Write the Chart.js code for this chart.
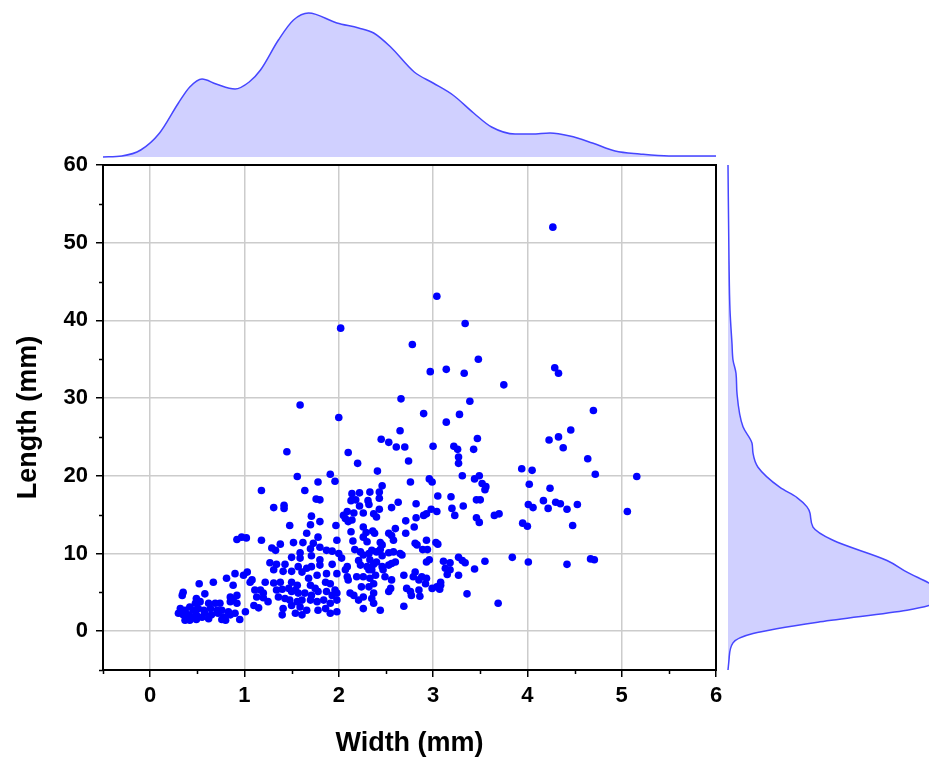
<!DOCTYPE html>
<html>
<head>
<meta charset="utf-8">
<script src="https://cdn.jsdelivr.net/npm/chart.js@4.4.0/dist/chart.umd.min.js"></script>
<style>
  body { margin: 0; background: #fff; }
  #wrap { position: relative; width: 929px; height: 760px; overflow: hidden; }
  canvas { position: absolute; }
</style>
</head>
<body>
<div id="wrap">
  <canvas id="top" width="722" height="160" style="left:0;top:0"></canvas>
  <canvas id="main" width="722" height="620" style="left:0;top:140px"></canvas>
  <canvas id="side" width="207" height="620" style="left:722px;top:140px"></canvas>
</div>
<script>
// scatter samples
const widthMm = [
    4.27,4.29,4.33,4.70,4.46,4.23,4.33,4.38,4.64,3.94,
    4.05,4.72,5.16,4.02,4.24,4.17,4.01,4.06,4.22,4.30,
    4.35,4.42,4.53,5.06,3.95,4.00,4.48,4.01,4.42,4.67,
    4.71,
    3.04,2.02,3.34,2.78,3.48,2.97,3.14,3.33,3.75,1.59,
    2.66,3.39,2.00,2.90,3.28,3.14,2.65,2.45,2.53,2.61,
    2.70,3.00,3.22,3.26,3.43,3.47,1.45,2.10,2.20,2.74,
    3.27,3.27,2.41,1.56,1.91,1.78,1.96,2.46,2.76,2.96,
    2.99,3.31,3.44,3.49,3.52,3.56,1.18,1.64,
    1.76,1.80,2.14,2.22,2.33,2.13,2.18,2.31,2.32,2.43,
    2.43,1.31,1.42,1.42,2.22,
    1.48,1.71,1.70,1.80,1.97,1.66,1.78,0.92,0.97,1.02,
    1.18,1.29,1.38,1.33,1.52,1.62,1.73,1.80,1.70,1.59,
    1.87,1.93,1.98,1.59,1.50,1.71,1.80,1.93,1.27,1.34,
    1.43,1.57,1.66,1.71,1.80,1.31,1.41,1.50,1.61,0.90,
    0.99,1.68,1.77,1.87,1.98,1.06,1.08,1.22,1.31,1.38,
    1.50,1.56,0.88,1.86,1.91,1.70,1.75,1.11,1.17,1.20,
    1.34,1.40,1.47,1.50,1.54,1.57,1.64,1.71,1.78,1.87,
    1.93,1.98,0.85,0.92,1.13,1.20,1.36,1.43,1.48,1.56,
    1.61,1.70,1.77,1.84,1.91,1.98,1.10,1.15,1.25,1.41,
    1.50,1.59,1.66,1.78,1.86,1.91,1.98,1.01,1.40,1.54,
    1.61,
    0.35,0.34,0.52,0.67,0.81,1.03,0.58,0.85,0.88,0.49,
    0.48,0.53,0.62,0.69,0.74,0.32,0.37,0.42,0.46,0.51,
    0.57,0.64,0.71,0.76,0.83,0.30,0.35,0.41,0.44,0.49,
    0.55,0.58,0.65,0.72,0.78,0.85,0.90,0.37,0.42,0.49,
    0.62,0.76,0.80,0.95,0.92,
    2.43,2.63,2.56,2.82,3.05,3.04,2.98,2.07,2.10,2.14,
    2.05,2.09,2.16,2.26,2.37,2.40,2.13,2.26,2.29,2.36,
    2.38,2.53,2.60,2.56,2.71,2.82,2.90,2.93,2.71,2.80,
    2.15,2.26,2.30,2.44,2.46,2.58,2.65,2.67,2.81,2.83,
    2.93,3.03,2.89,2.94,2.00,2.03,2.17,2.23,2.26,2.32,
    2.35,2.40,2.44,2.46,2.53,2.58,2.96,2.93,2.09,2.07,
    2.21,2.23,2.30,2.33,2.37,2.35,2.32,2.40,2.46,2.47,
    2.53,2.56,2.60,2.49,2.56,2.69,2.81,2.79,2.85,2.88,
    2.92,2.99,3.04,2.93,1.96,2.09,2.10,2.19,2.26,2.33,
    2.39,2.37,2.12,2.16,2.24,2.26,2.21,2.32,2.37,2.35,
    2.55,2.53,2.72,2.76,2.77,2.85,2.86,2.69,2.26,2.37,
    2.44,
    3.55,3.19,3.46,3.50,3.20,3.23,3.32,3.46,3.49,3.65,
    3.70,3.05,3.11,3.18,3.13,3.18,3.27,3.31,3.34,3.55,
    3.84,3.44,3.15,3.27,3.08,3.08,3.07,3.36,3.69
];
const lengthMm = [
    52.0,33.9,33.2,28.4,25.9,24.6,25.0,23.6,22.2,20.9,
    20.7,20.2,19.9,18.9,18.4,16.8,16.3,15.9,15.8,16.6,
    16.4,15.7,16.3,15.4,13.9,13.5,13.6,8.9,8.6,9.3,
    9.2,
    43.1,39.0,39.6,36.9,35.0,33.4,33.7,33.2,31.7,29.1,
    29.9,29.6,27.5,28.0,27.9,26.9,25.8,24.7,24.3,23.7,
    23.7,23.8,23.8,23.4,23.4,24.8,23.1,23.0,21.6,21.9,
    22.4,21.6,20.6,19.9,20.2,19.2,19.3,18.7,19.2,19.6,
    19.2,20.0,19.6,20.0,19.0,18.6,18.1,18.1,
    17.0,16.9,17.7,17.8,17.9,16.8,16.9,16.8,16.3,17.1,
    17.9,15.9,16.2,15.8,16.1,
    13.6,14.8,13.7,14.1,13.6,12.6,12.1,11.8,12.1,12.0,
    11.7,10.7,11.2,10.4,11.4,11.4,11.3,10.8,10.6,10.1,
    10.4,10.3,11.7,9.4,9.5,9.7,9.2,8.6,8.8,8.6,
    8.6,8.3,8.1,8.3,8.5,7.9,7.7,7.7,7.6,7.4,
    7.2,6.8,7.2,7.4,7.4,6.3,6.6,6.3,6.2,6.3,
    6.3,5.9,5.9,6.3,6.1,5.9,5.5,5.3,5.3,4.9,
    5.3,5.4,5.5,5.1,5.3,4.9,4.9,4.6,5.1,5.1,
    4.6,4.9,4.4,4.6,4.4,4.3,4.4,4.2,4.0,3.8,
    4.0,4.0,3.8,4.0,3.6,4.0,3.3,3.0,3.8,2.9,
    3.3,3.1,2.7,2.7,2.9,2.3,2.5,2.5,2.1,2.3,
    2.1,
    5.0,4.6,6.1,6.3,6.8,7.6,4.8,3.8,4.0,4.2,
    3.6,3.8,3.6,3.6,3.6,2.9,2.7,3.1,2.7,2.9,
    2.7,2.9,2.7,2.7,2.5,2.3,2.1,2.1,1.8,2.1,
    1.8,2.3,2.1,2.3,1.8,2.1,2.3,1.4,1.4,1.5,
    1.6,1.5,1.4,1.5,3.6,
    15.7,16.6,15.9,16.4,17.4,15.4,15.7,14.5,14.1,14.3,
    14.9,15.4,15.2,15.2,15.1,14.7,12.8,13.4,12.7,12.9,
    12.6,12.6,13.2,12.3,14.2,14.6,14.9,15.1,12.6,13.4,
    11.6,12.1,11.5,11.4,11.1,11.7,10.0,9.8,11.3,11.1,
    11.7,11.4,10.5,10.5,10.0,9.4,10.5,10.2,9.8,10.0,
    10.4,10.2,10.5,9.7,10.1,10.2,9.2,8.9,8.3,7.9,
    9.1,8.5,8.3,9.2,8.6,7.9,7.9,8.9,8.3,7.9,
    8.5,8.7,8.9,7.0,6.6,7.2,7.6,7.0,6.6,7.0,
    6.1,5.5,5.7,6.8,5.3,7.0,6.6,7.0,7.0,6.8,
    7.2,6.1,4.9,4.6,5.7,4.4,4.0,5.7,4.9,4.2,
    5.5,5.1,5.5,5.1,4.6,5.3,4.5,3.2,2.9,3.6,
    2.7,
    18.2,17.3,16.9,16.9,15.8,14.9,16.1,14.6,14.0,14.9,
    15.1,11.2,9.0,8.8,8.1,7.9,9.5,9.1,8.8,9.0,
    9.5,8.0,7.3,7.2,6.3,5.9,5.4,4.8,3.6
];

// marginal density curves (relative units)
const widthGrid = [-0.5,-0.3,-0.1,0.1,0.3,0.42,0.55,0.7,0.9,1.05,1.17,1.36,1.52,1.68,1.98,2.21,2.37,2.55,2.8,3.0,3.21,3.43,3.62,3.87,4.05,4.24,4.45,4.69,4.93,5.19,5.5,6.0];
const widthDensity = [0,1,7,24,54,70,78,73,68,75,87,117,137,144,134,129,124,110,85,74,62,44,30,23,23,24,21,14,6,3,1,1];

const lengthGrid = [-5,-3.7,-1.5,-0.3,1.2,2.7,3.3,4.6,6.2,7.6,9.1,11.7,13.4,15.2,16.0,17.2,18.5,21.1,22.9,24.2,26.3,30.6,33.2,34.9,37,41.3,47.7,60];
const lengthDensity = [0,1,5,25,92,179,201,222,201,179,159,105,85,82,79,69,52,30,25,24,15,9,8,5,4,2,1,0];

const xTicks = [0,1,2,3,4,5,6];
const yTicks = [0,10,20,30,40,50,60];
const xMinor = [-0.5,0.5,1.5,2.5,3.5,4.5,5.5];
const yMinor = [-5,5,15,25,35,45,55];

if (widthMm.length !== lengthMm.length) console.error("length mismatch", widthMm.length, lengthMm.length);

const lineBlue = 'rgba(70, 70, 255, 1)';
const fillBlue = 'rgba(208, 208, 255, 1)';
const font = 'Liberation Sans, Arial, sans-serif';

// frame + minor ticks for the main plot
const framePlugin = {
    id: 'frame',
    afterDraw(chart) {
        const {ctx, chartArea: a, scales} = chart;
        ctx.save();
        ctx.strokeStyle = '#000';
        ctx.lineWidth = 1.5;
        ctx.beginPath();
        xMinor.forEach(v => {
            const px = Math.round(scales.x.getPixelForValue(v)) + 0.5;
            ctx.moveTo(px, a.bottom);
            ctx.lineTo(px, a.bottom + 4);
        });
        yMinor.forEach(v => {
            const py = Math.round(scales.y.getPixelForValue(v)) + 0.5;
            ctx.moveTo(a.left, py);
            ctx.lineTo(a.left - 4, py);
        });
        ctx.stroke();
        ctx.lineWidth = 2;
        ctx.strokeRect(a.left, a.top, a.right - a.left, a.bottom - a.top);
        ctx.restore();
    }
};

new Chart(document.getElementById('main'), {
    type: 'scatter',
    data: {
        datasets: [{
            data: widthMm.map((w, i) => ({x: w, y: lengthMm[i]})),
            backgroundColor: '#0000ff',
            borderWidth: 0,
            pointRadius: 3.8,
            pointHoverRadius: 3.8
        }]
    },
    options: {
        responsive: false,
        animation: false,
        layout: { padding: { top: 25, right: 6, left: 0, bottom: 0 } },
        plugins: { legend: { display: false }, tooltip: { enabled: false } },
        scales: {
            x: {
                type: 'linear',
                min: -0.5,
                max: 6,
                afterBuildTicks: s => { s.ticks = xTicks.map(v => ({value: v})); },
                afterFit: s => { s.height = 90; s.paddingLeft = 0; s.paddingRight = 0; },
                grid: { color: '#cccccc', tickColor: '#000', tickLength: 7, lineWidth: 1.5 },
                border: { color: '#000', width: 2 },
                ticks: { color: '#000', padding: 6, font: { family: font, size: 22, weight: 'bold' } },
                title: {
                    display: true,
                    text: 'Width (mm)',
                    color: '#000',
                    padding: { top: 0, bottom: 0 },
                    font: { family: font, size: 27, weight: 'bold' }
                }
            },
            y: {
                type: 'linear',
                min: -5,
                max: 60,
                afterBuildTicks: s => { s.ticks = yTicks.map(v => ({value: v})); },
                afterFit: s => { s.width = 103; s.paddingTop = 0; s.paddingBottom = 0; },
                grid: { color: '#cccccc', tickColor: '#000', tickLength: 7, lineWidth: 1.5 },
                border: { color: '#000', width: 2 },
                ticks: { color: '#000', padding: 8, font: { family: font, size: 22, weight: 'bold' } },
                title: {
                    display: true,
                    text: 'Length (mm)',
                    color: '#000',
                    padding: { top: 12, bottom: 0 },
                    font: { family: font, size: 27, weight: 'bold' }
                }
            }
        }
    },
    plugins: [framePlugin]
});

// top marginal: density of width
new Chart(document.getElementById('top'), {
    type: 'line',
    data: {
        datasets: [{
            data: widthGrid.map((w, i) => ({x: w, y: widthDensity[i]})),
            borderColor: lineBlue,
            borderWidth: 1.5,
            backgroundColor: fillBlue,
            fill: 'origin',
            pointRadius: 0,
            cubicInterpolationMode: 'monotone',
            clip: false
        }]
    },
    options: {
        responsive: false,
        animation: false,
        layout: { padding: { left: 103, right: 6, top: 10, bottom: 3 } },
        plugins: { legend: { display: false }, tooltip: { enabled: false } },
        scales: {
            x: { type: 'linear', min: -0.5, max: 6, display: false },
            y: { min: 0, max: 147, display: false }
        }
    }
});

// right marginal: density of length
new Chart(document.getElementById('side'), {
    type: 'line',
    data: {
        datasets: [{
            data: lengthGrid.map((l, i) => ({x: lengthDensity[i], y: l})),
            borderColor: lineBlue,
            borderWidth: 1.5,
            backgroundColor: fillBlue,
            fill: 'origin',
            pointRadius: 0,
            cubicInterpolationMode: 'monotone',
            clip: false
        }]
    },
    options: {
        indexAxis: 'y',
        responsive: false,
        animation: false,
        layout: { padding: { left: 5, right: 0, top: 25, bottom: 90 } },
        plugins: { legend: { display: false }, tooltip: { enabled: false } },
        scales: {
            x: { type: 'linear', min: -1, max: 201, display: false },
            y: { type: 'linear', min: -5, max: 60, display: false }
        }
    }
});
</script>
</body>
</html>
